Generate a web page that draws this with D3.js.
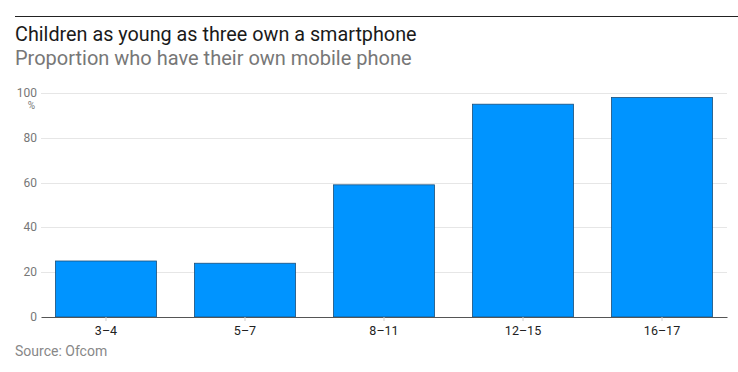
<!DOCTYPE html>
<html><head><meta charset="utf-8">
<script src="https://cdn.jsdelivr.net/npm/d3@7"></script>
<style>body{margin:0;background:#fff}</style>
</head><body>
<svg id="c" width="738" height="372"></svg>
<script>
const categories = ["3–4","5–7","8–11","12–15","16–17"];
const values = [25, 24, 59, 95, 98];
const yTicks = [0,20,40,60,80,100];

const svg = d3.select("#c");
const font = "Roboto, 'Noto Sans', sans-serif";
const L = 41, R = 727, T = 93, B = 317;

svg.append("line").attr("x1",15).attr("x2",738).attr("y1",16.5).attr("y2",16.5).attr("stroke","#222").attr("stroke-width",1);
svg.append("text").attr("x",15).attr("y",41).attr("font-family",font).attr("font-size",19.8).attr("fill","#1a1a1a").text("Children as young as three own a smartphone");
svg.append("text").attr("x",15).attr("y",65).attr("font-family",font).attr("font-size",20).attr("fill","#777").text("Proportion who have their own mobile phone");

const x = d3.scaleBand().domain(categories).range([L,R]).paddingInner(0.273).paddingOuter(0.104);
const y = d3.scaleLinear().domain([0,100]).range([B,T]);

const g = svg.append("g");
g.selectAll(".grid").data(yTicks.filter(d=>d>0)).enter().append("line")
  .attr("x1",L).attr("x2",R).attr("y1",d=>Math.round(y(d))+0.5).attr("y2",d=>Math.round(y(d))+0.5)
  .attr("stroke","#e6e6e6").attr("stroke-width",1);
g.selectAll(".yl").data(yTicks).enter().append("text")
  .attr("x",37).attr("y",d=>y(d)+4).attr("text-anchor","end")
  .attr("font-family",font).attr("font-size",12).attr("fill","#777").text(d=>d);
g.append("text").attr("x",35).attr("y",y(100)+16).attr("text-anchor","end")
  .attr("font-family",font).attr("font-size",10).attr("fill","#777").text("%");

g.selectAll(".bar").data(values).enter().append("rect")
  .attr("x",(d,i)=>x(categories[i])).attr("width",x.bandwidth())
  .attr("y",d=>y(d)).attr("height",d=>B-y(d))
  .attr("fill","#0094ff").attr("stroke","#1b4f7a").attr("stroke-width",0.8);

const xa = svg.append("g").attr("transform",`translate(0,${B})`)
  .call(d3.axisBottom(x).tickSize(4).tickPadding(5).tickSizeOuter(0));
xa.select(".domain").attr("stroke","#555");
xa.selectAll(".tick line").attr("stroke","#ccc");
xa.selectAll(".tick text").attr("font-family",font).attr("font-size",12.5).attr("fill","#222");

svg.append("text").attr("x",15).attr("y",356).attr("font-family",font).attr("font-size",14).attr("fill","#888").text("Source: Ofcom");
</script>
</body></html>
